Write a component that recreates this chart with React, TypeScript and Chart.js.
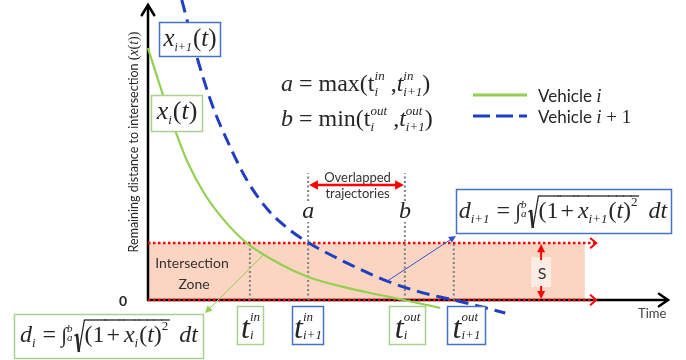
import React, { useEffect, useRef } from 'react';
import { Chart, registerables } from 'chart.js';

Chart.register(...registerables);

// ---------------- data (time / remaining distance, arbitrary units) ----------------
const vehicleITimes = [0, 0.27, 0.52, 0.77, 1.1, 1.58, 1.9, 2.54, 3.08, 3.83, 4.46, 4.92, 5.62];
const vehicleIDistances = [8.54, 7.05, 5.76, 4.64, 3.56, 2.47, 1.93, 1.22, 0.78, 0.41, 0.17, 0, -0.27];
const vehicleNextTimes = [0.65, 0.94, 1.25, 1.58, 1.9, 2.31, 2.73, 3.06, 3.83, 4.6, 5.1, 5.62, 5.88, 6.87];
const vehicleNextDistances = [10.17, 8.24, 6.54, 5.19, 4.07, 3.05, 2.37, 1.97, 1.25, 0.64, 0.34, 0.1, 0, -0.44];
// t_i^in, t_{i+1}^in, t_i^out, t_{i+1}^out
const markerTimes = [1.96, 3.08, 4.94, 5.88];
const markerTops = [1.93, 4.3, 4.3, 1.93];
const zoneHeight = 1.93; // S
const zoneEndTime = 8.4;
const zoneLineEndTime = 8.62;
const sArrowTime = 7.56;
const overlapArrowDist = 3.9;
const connectorITime = 2.23;
const connectorIDist = 1.55;
const connectorNextTime = 4.6;
const connectorNextDist = 0.64;
const axisTimeMax = 10;
const axisDistMax = 10;

// ---------------- styles ----------------
const GREEN = '#92D050';
const BLUE = '#1E3FC2';
const BOX_GREEN = '#A9D18E';
const BOX_BLUE = '#4472C4';
const RED = '#FF0000';
const PEACH = '#FBD5C1';
const GREY = '#7F7F7F';
const TEXT = '#262626';
const SERIF = '"Liberation Serif", "Times New Roman", serif';
const SANS = 'Lato, "Liberation Sans", sans-serif';
const it = (s: number) => `italic ${s}px ${SERIF}`;
const rm = (s: number) => `${s}px ${SERIF}`;
const sans = (s: number) => `${s}px ${SANS}`;

type Seg = {
  t?: string;
  f?: string;
  dy?: number;
  sup?: string;
  sub?: string;
  supDy?: number;
  subDy?: number;
  gap?: number;
  bar?: number;
  pad?: number;
  rad?: number;
  radTop?: number;
  radBottom?: number;
};

function segWidth(ctx: CanvasRenderingContext2D, s: Seg) {
  if (s.gap !== undefined) return s.gap;
  if (s.rad !== undefined) return s.rad;
  ctx.font = s.f || rm(16);
  if (s.sup !== undefined || s.sub !== undefined) {
    const a = s.sup ? ctx.measureText(s.sup).width : 0;
    const b = s.sub ? ctx.measureText(s.sub).width : 0;
    return Math.max(a, b) + (s.pad || 0);
  }
  return ctx.measureText(s.t || '').width + (s.pad || 0);
}

function drawRich(ctx: CanvasRenderingContext2D, x: number, y: number, segs: Seg[], align = 'left', color = TEXT) {
  const widths = segs.map((s) => segWidth(ctx, s));
  const total = widths.reduce((a, b) => a + b, 0);
  let cx = align === 'center' ? x - total / 2 : align === 'right' ? x - total : x;
  ctx.textAlign = 'left';
  ctx.textBaseline = 'alphabetic';
  ctx.fillStyle = color;
  segs.forEach((s, i) => {
    const w = widths[i];
    if (s.rad !== undefined) {
      const top = y + (s.radTop || -22);
      const bottom = y + (s.radBottom || 10);
      ctx.save();
      ctx.strokeStyle = color;
      ctx.lineJoin = 'miter';
      ctx.lineWidth = 1.3;
      ctx.beginPath();
      ctx.moveTo(cx, y - 6);
      ctx.lineTo(cx + 2.5, y - 8);
      ctx.stroke();
      ctx.lineWidth = 2.6;
      ctx.beginPath();
      ctx.moveTo(cx + 2.5, y - 8);
      ctx.lineTo(cx + w * 0.45, bottom);
      ctx.stroke();
      ctx.lineWidth = 1.3;
      ctx.beginPath();
      ctx.moveTo(cx + w * 0.45, bottom);
      ctx.lineTo(cx + w, top);
      ctx.stroke();
      ctx.restore();
    } else if (s.gap === undefined) {
      ctx.font = s.f || rm(16);
      if (s.sup !== undefined || s.sub !== undefined) {
        if (s.sup) ctx.fillText(s.sup, cx, y + (s.supDy || 0));
        if (s.sub) ctx.fillText(s.sub, cx, y + (s.subDy || 0));
      } else {
        ctx.fillText(s.t || '', cx, y + (s.dy || 0));
      }
    }
    if (s.bar !== undefined) {
      ctx.save();
      ctx.strokeStyle = color;
      ctx.lineWidth = 1.3;
      ctx.beginPath();
      ctx.moveTo(cx - 0.5, y + s.bar);
      ctx.lineTo(cx + w + 0.5, y + s.bar);
      ctx.stroke();
      ctx.restore();
    }
    cx += w;
  });
  return total;
}

function line(ctx: CanvasRenderingContext2D, x1: number, y1: number, x2: number, y2: number) {
  ctx.beginPath();
  ctx.moveTo(x1, y1);
  ctx.lineTo(x2, y2);
  ctx.stroke();
}

function head(ctx: CanvasRenderingContext2D, x1: number, y1: number, x2: number, y2: number, size: number, filled: boolean, spread = 0.5) {
  const a = Math.atan2(y2 - y1, x2 - x1);
  ctx.beginPath();
  ctx.moveTo(x2 - size * Math.cos(a - spread), y2 - size * Math.sin(a - spread));
  ctx.lineTo(x2, y2);
  ctx.lineTo(x2 - size * Math.cos(a + spread), y2 - size * Math.sin(a + spread));
  if (filled) {
    ctx.closePath();
    ctx.fill();
  } else {
    ctx.stroke();
  }
}

function box(ctx: CanvasRenderingContext2D, x: number, y: number, w: number, h: number, color: string) {
  ctx.save();
  ctx.fillStyle = '#ffffff';
  ctx.fillRect(x, y, w, h);
  ctx.strokeStyle = color;
  ctx.lineWidth = 1.5;
  ctx.strokeRect(x + 0.5, y + 0.5, w, h);
  ctx.restore();
}

function integralSegs(subIdx: string): Seg[] {
  const bar = -22;
  return [
    { t: 'd', f: it(24) },
    { sub: subIdx, f: it(13), subDy: 5, pad: 1 },
    { gap: 6 },
    { t: '=', f: rm(24) },
    { gap: 5 },
    { t: '\u222B', f: rm(21), dy: 0 },
    { sup: 'b', sub: 'a', f: it(11), supDy: -10, subDy: -1, pad: 1 },
    { gap: 1 },
    { rad: 10, radTop: bar, radBottom: 10 },
    { t: '(1', f: rm(24), bar },
    { gap: 2, bar },
    { t: '+', f: rm(24), bar },
    { gap: 4, bar },
    { t: 'x', f: it(24), bar },
    { sub: subIdx, f: it(13), subDy: 5, bar, pad: 1 },
    { t: '(', f: rm(24), bar },
    { t: 't', f: it(24), bar },
    { t: ')', f: rm(24), bar },
    { sup: '2', f: rm(13), supDy: -12, bar, pad: 1 },
    { gap: 10 },
    { t: 'dt', f: it(24) },
  ];
}

function tLabel(sup: string, sub: string): Seg[] {
  return [
    { t: 't', f: it(32) },
    { sup, sub, f: it(13), supDy: -17, subDy: 1 },
  ];
}

const diagramPlugin = {
  id: 'diagram',
  beforeDatasetsDraw(chart: any) {
    const { ctx } = chart;
    const xs = chart.scales.x;
    const ys = chart.scales.y;
    const px = (t: number) => xs.getPixelForValue(t);
    const py = (d: number) => ys.getPixelForValue(d);
    ctx.save();

    // intersection zone
    ctx.fillStyle = PEACH;
    ctx.fillRect(px(0), py(zoneHeight), px(zoneEndTime) - px(0), py(0) - py(zoneHeight));
    ctx.fillStyle = 'rgba(255,255,255,0.55)';
    ctx.fillRect(px(sArrowTime) - 10, py(zoneHeight) + 14, 20, 30);

    // axes
    ctx.strokeStyle = '#000';
    ctx.lineWidth = 2.5;
    ctx.lineCap = 'round';
    line(ctx, px(0), py(0), px(0), py(axisDistMax) + 1);
    head(ctx, px(0), py(0), px(0), py(axisDistMax), 12, false, 0.55);
    line(ctx, px(0), py(0), px(axisTimeMax) - 1, py(0));
    head(ctx, px(0), py(0), px(axisTimeMax), py(0), 11, false, 0.6);

    // red dotted zone boundaries
    ctx.strokeStyle = RED;
    ctx.lineWidth = 2.5;
    ctx.lineCap = 'butt';
    ctx.setLineDash([2.5, 2.5]);
    line(ctx, px(0), py(zoneHeight), px(zoneLineEndTime), py(zoneHeight));
    line(ctx, px(0), py(0), px(zoneLineEndTime), py(0));
    ctx.setLineDash([]);
    ctx.lineWidth = 2;
    head(ctx, px(0), py(zoneHeight), px(zoneLineEndTime), py(zoneHeight), 8, false, 0.7);
    head(ctx, px(0), py(0), px(zoneLineEndTime), py(0), 8, false, 0.7);

    // grey dotted time markers
    ctx.strokeStyle = GREY;
    ctx.lineWidth = 2;
    ctx.setLineDash([2, 2.5]);
    markerTimes.forEach((t, i) => {
      line(ctx, px(t), py(0), px(t), py(markerTops[i]));
    });
    ctx.setLineDash([]);
    ctx.restore();
  },
  afterDatasetsDraw(chart: any) {
    const { ctx } = chart;
    const xs = chart.scales.x;
    const ys = chart.scales.y;
    const px = (t: number) => xs.getPixelForValue(t);
    const py = (d: number) => ys.getPixelForValue(d);
    ctx.save();

    // y-axis title
    ctx.save();
    ctx.translate(138, 142);
    ctx.rotate(-Math.PI / 2);
    drawRich(ctx, 0, 0, [
      { t: 'Remaining distance to intersection ', f: sans(12.5) },
      { t: '(', f: rm(14) },
      { t: 'x', f: it(14) },
      { t: '(', f: rm(14) },
      { t: 't', f: it(14) },
      { t: '))', f: rm(14) },
    ], 'center');
    ctx.restore();

    // axis texts
    ctx.fillStyle = TEXT;
    ctx.font = `bold 14px ${SANS}`;
    ctx.textAlign = 'center';
    ctx.fillText('0', 123, py(0) + 6);
    ctx.font = sans(13);
    ctx.textAlign = 'left';
    ctx.fillStyle = '#404040';
    ctx.fillText('Time', 638, 318);

    // zone labels
    ctx.fillStyle = '#333';
    ctx.font = sans(14);
    ctx.textAlign = 'center';
    ctx.fillText('Intersection', 192, 268);
    ctx.fillText('Zone', 194, 289);

    // S arrow
    const sx = px(sArrowTime);
    ctx.strokeStyle = RED;
    ctx.fillStyle = RED;
    ctx.lineWidth = 2;
    line(ctx, sx, py(zoneHeight) + 4, sx, py(zoneHeight) + 17);
    line(ctx, sx, py(0) - 4, sx, py(0) - 14);
    head(ctx, sx, py(0), sx, py(zoneHeight) + 1, 9, true, 0.45);
    head(ctx, sx, py(zoneHeight), sx, py(0) - 1, 9, true, 0.45);
    ctx.fillStyle = '#333';
    ctx.font = sans(16);
    ctx.textAlign = 'center';
    ctx.fillText('S', sx + 1, 279);

    // overlapped trajectories
    const ax = px(markerTimes[1]);
    const bx = px(markerTimes[2]);
    const oy = py(overlapArrowDist);
    ctx.strokeStyle = RED;
    ctx.fillStyle = RED;
    ctx.lineWidth = 2.5;
    line(ctx, ax + 6, oy, bx - 6, oy);
    head(ctx, bx, oy, ax + 1, oy, 10, true, 0.5);
    head(ctx, ax, oy, bx - 1, oy, 10, true, 0.5);
    ctx.fillStyle = '#333';
    ctx.font = sans(13);
    ctx.textAlign = 'center';
    ctx.fillText('Overlapped', (ax + bx) / 2 + 1, 182);
    ctx.fillText('trajectories', (ax + bx) / 2 + 1, 198);

    // a / b labels
    ctx.fillStyle = '#fff';
    ctx.fillRect(ax - 7, 202, 14, 20);
    ctx.fillRect(bx - 7, 202, 14, 20);
    ctx.fillStyle = TEXT;
    ctx.font = it(24);
    ctx.fillText('a', ax, 218);
    ctx.fillText('b', bx, 218);

    // formulas
    drawRich(ctx, 281, 91, [
      { t: 'a', f: it(24) },
      { t: ' = max(t', f: rm(24) },
      { sup: 'in', sub: 'i', f: it(13), supDy: -11, subDy: 5 },
      { t: ' ,', f: rm(24) },
      { t: 't', f: it(24) },
      { sup: 'in', sub: 'i+1', f: it(13), supDy: -11, subDy: 5 },
      { t: ')', f: rm(24) },
    ]);
    drawRich(ctx, 281, 126, [
      { t: 'b', f: it(24) },
      { t: ' = min(t', f: rm(24) },
      { sup: 'out', sub: 'i', f: it(13), supDy: -11, subDy: 5 },
      { t: ' ,', f: rm(24) },
      { t: 't', f: it(24) },
      { sup: 'out', sub: 'i+1', f: it(13), supDy: -11, subDy: 5 },
      { t: ')', f: rm(24) },
    ]);

    // legend
    ctx.lineWidth = 3;
    ctx.strokeStyle = GREEN;
    line(ctx, 473, 95, 527, 95);
    ctx.strokeStyle = BLUE;
    ctx.setLineDash([17, 6]);
    line(ctx, 473, 116, 527, 116);
    ctx.setLineDash([]);
    drawRich(ctx, 538, 102, [
      { t: 'Vehicle ', f: sans(17) },
      { t: 'i', f: it(19) },
    ]);
    drawRich(ctx, 538, 123, [
      { t: 'Vehicle ', f: sans(17) },
      { t: 'i', f: it(19) },
      { t: ' + 1', f: rm(19) },
    ]);

    // curve name boxes
    box(ctx, 159, 22, 61, 34, BOX_BLUE);
    drawRich(ctx, 190, 46, [
      { t: 'x', f: it(25) },
      { sub: 'i+1', f: it(12), subDy: 5, pad: 1 },
      { t: '(', f: rm(25) },
      { t: 't', f: it(25) },
      { t: ')', f: rm(25) },
    ], 'center');
    box(ctx, 151, 95, 51, 36, BOX_GREEN);
    drawRich(ctx, 177, 119, [
      { t: 'x', f: it(26) },
      { sub: 'i', f: it(13), subDy: 5, pad: 1 },
      { t: '(', f: rm(26) },
      { t: 't', f: it(26) },
      { t: ')', f: rm(26) },
    ], 'center');

    // connector arrows
    ctx.lineWidth = 1;
    ctx.strokeStyle = GREEN;
    ctx.fillStyle = GREEN;
    const g1x = px(connectorITime);
    const g1y = py(connectorIDist);
    line(ctx, g1x, g1y, 207, 311);
    head(ctx, g1x, g1y, 205, 313, 8, true, 0.45);
    ctx.strokeStyle = '#3355CC';
    ctx.fillStyle = '#3355CC';
    const b1x = px(connectorNextTime);
    const b1y = py(connectorNextDist);
    line(ctx, b1x, b1y, 453, 238);
    head(ctx, b1x, b1y, 456, 236, 8, true, 0.45);

    // integral boxes
    box(ctx, 14, 314, 189, 44, BOX_GREEN);
    drawRich(ctx, 109, 342, integralSegs('i'), 'center');
    box(ctx, 456, 189, 215, 44, BOX_BLUE);
    drawRich(ctx, 563, 218, integralSegs('i+1'), 'center');

    // time marker boxes
    const tBoxes = [
      { x: 237, w: 26, color: BOX_GREEN, sup: 'in', sub: 'i' },
      { x: 292, w: 31, color: BOX_BLUE, sup: 'in', sub: 'i+1' },
      { x: 389, w: 36, color: BOX_GREEN, sup: 'out', sub: 'i' },
      { x: 447, w: 38, color: BOX_BLUE, sup: 'out', sub: 'i+1' },
    ];
    tBoxes.forEach((b) => {
      box(ctx, b.x, 306, b.w, 38, b.color);
      drawRich(ctx, b.x + b.w / 2 + 0.5, 338, tLabel(b.sup, b.sub), 'center');
    });

    ctx.restore();
  },
};

export default function App() {
  const canvasRef = useRef<HTMLCanvasElement | null>(null);

  useEffect(() => {
    if (!canvasRef.current) return;
    const chart = new Chart(canvasRef.current, {
      type: 'scatter',
      data: {
        datasets: [
          {
            label: 'Vehicle i',
            data: vehicleITimes.map((t, i) => ({ x: t, y: vehicleIDistances[i] })),
            showLine: true,
            borderColor: GREEN,
            backgroundColor: GREEN,
            borderWidth: 2.2,
            pointRadius: 0,
            cubicInterpolationMode: 'monotone',
            clip: false,
            fill: false,
          } as any,
          {
            label: 'Vehicle i + 1',
            data: vehicleNextTimes.map((t, i) => ({ x: t, y: vehicleNextDistances[i] })),
            showLine: true,
            borderColor: BLUE,
            backgroundColor: BLUE,
            borderWidth: 3,
            borderDash: [13, 7],
            pointRadius: 0,
            cubicInterpolationMode: 'monotone',
            clip: false,
            fill: false,
          } as any,
        ],
      },
      options: {
        animation: false,
        responsive: false,
        events: [],
        layout: { padding: { left: 148, right: 18, top: 5, bottom: 60 } },
        scales: {
          x: { type: 'linear', min: 0, max: axisTimeMax, display: false },
          y: { type: 'linear', min: 0, max: axisDistMax, display: false },
        },
        plugins: { legend: { display: false }, tooltip: { enabled: false } },
      },
      plugins: [diagramPlugin],
    });
    return () => chart.destroy();
  }, []);

  return (
    <div style={{ position: 'fixed', left: 0, top: 0, width: 686, height: 360, background: '#fff' }}>
      <canvas ref={canvasRef} width={686} height={360} style={{ width: 686, height: 360, display: 'block' }} />
    </div>
  );
}
